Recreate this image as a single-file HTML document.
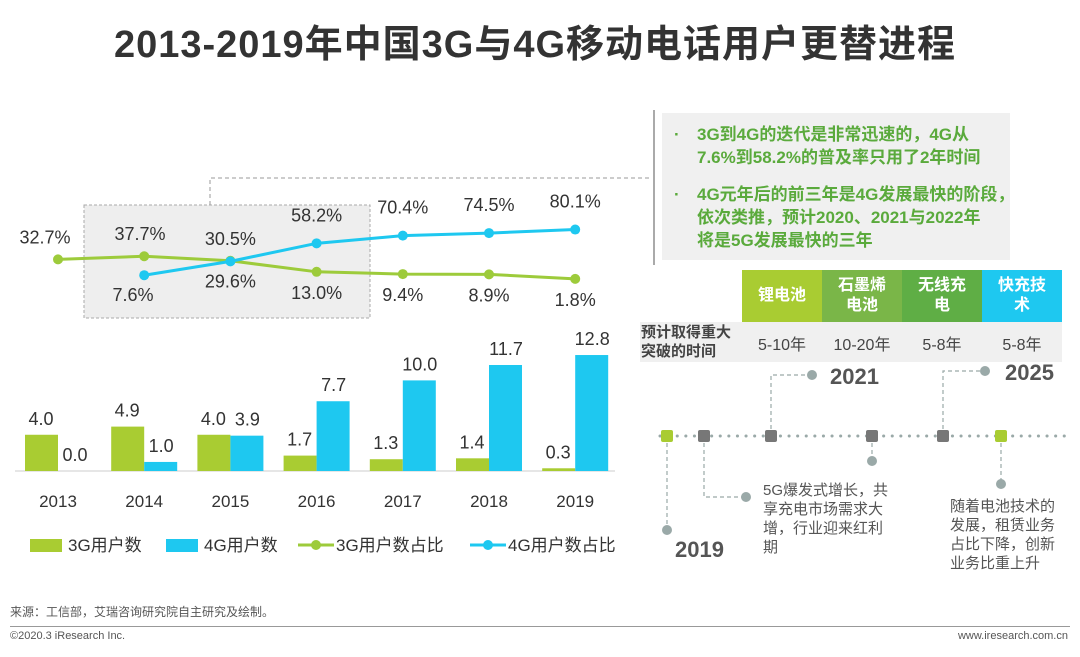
<!DOCTYPE html>
<html><head><meta charset="utf-8"><style>
body{margin:0;width:1080px;height:657px;background:#fff;overflow:hidden;font-family:"Liberation Sans","Noto Sans CJK SC",sans-serif;position:relative}
.a{position:absolute;white-space:nowrap}
</style></head><body>
<div class="a" style="left:0;width:1070px;top:13px;text-align:center;font-size:38px;font-weight:bold;color:#333;letter-spacing:1px">2013-2019年中国3G与4G移动电话用户更替进程</div>
<svg id="ch" class="a" style="left:0;top:0" width="1080" height="657"></svg>
<div class="a" style="left:662px;top:113px;width:348px;height:147px;background:#f0f0f0;color:#5aaa3c;font-weight:bold;font-size:17px;line-height:23px">
<div class="a" style="left:12px;top:10px">·</div><div class="a" style="left:35px;top:10px">3G到4G的迭代是非常迅速的，4G从<br>7.6%到58.2%的普及率只用了2年时间</div>
<div class="a" style="left:12px;top:70px">·</div><div class="a" style="left:35px;top:70px">4G元年后的前三年是4G发展最快的阶段，<br>依次类推，预计2020、2021与2022年<br>将是5G发展最快的三年</div></div>
<div class="a" style="left:640px;top:322px;width:422px;height:40px;background:#f0f0f0"></div>
<div class="a" style="left:641px;top:323px;font-size:15px;font-weight:bold;color:#444;line-height:19px">预计取得重大<br>突破的时间</div>
<div id="tbl"></div>
<div class="a" style="left:10px;top:603px;font-size:12px;color:#555">来源：工信部，艾瑞咨询研究院自主研究及绘制。</div>
<div class="a" style="left:10px;top:626px;width:1060px;height:1px;background:#999"></div>
<div class="a" style="left:10px;top:630px;font-size:11px;color:#555">©2020.3 iResearch Inc.</div>
<div class="a" style="right:12px;top:630px;font-size:11px;color:#555">www.iresearch.com.cn</div>
<script>
const years=["2013","2014","2015","2016","2017","2018","2019"];
const users3g=[4.0,4.9,4.0,1.7,1.3,1.4,0.3];
const users4g=[0.0,1.0,3.9,7.7,10.0,11.7,12.8];
const share3g=[32.7,37.7,30.5,13.0,9.4,8.9,1.8];
const share4g=[null,7.6,29.6,58.2,70.4,74.5,80.1];
const NS="http://www.w3.org/2000/svg",svg=document.getElementById('ch');
const G="#a9cc32",B="#1ec8f0",GL="#9dcb3b";
function xc(i){return 58+i*86.2}
function yb(v){return 471-v*9.06}
function yl(v){return 280-v*0.63}
function mk(t,a,p){const e=document.createElementNS(NS,t);for(const k in a)e.setAttribute(k,a[k]);(p||svg).appendChild(e);return e}
function tx(x,y,s,o){const e=mk('text',Object.assign({x:x,y:y,'text-anchor':'middle','font-size':18,fill:'#333'},o||{}));e.textContent=s;return e}
let e=mk('rect',{x:84,y:205,width:286,height:113,fill:'#eeeeee',stroke:'#aaa','stroke-dasharray':'3,2'});

e=mk('polyline',{points:'210,205 210,178 652,178',fill:'none',stroke:'#999','stroke-dasharray':'4,3'});

e=mk('line',{x1:654,y1:110,x2:654,y2:265,stroke:'#aaa','stroke-width':2});

e=mk('line',{x1:15,y1:471,x2:615,y2:471,stroke:'#ccc'});

years.forEach((y,i)=>{
 let r=mk('rect',{x:xc(i)-33,y:yb(users3g[i]),width:33,height:471-yb(users3g[i]),fill:G});
 
 let t=tx(xc(i)-17,yb(users3g[i])-10,users3g[i].toFixed(1));
 
 r=mk('rect',{x:xc(i),y:yb(users4g[i]),width:33,height:471-yb(users4g[i]),fill:B});
 
 t=tx(xc(i)+17,yb(users4g[i])-10,users4g[i].toFixed(1));
 
 t=tx(xc(i),507,y,{'font-size':17});
 
});
function line(d,c,nm){let pts=[];d.forEach((v,i)=>{if(v!=null)pts.push(xc(i)+','+yl(v))});
 let p=mk('polyline',{points:pts.join(' '),fill:'none',stroke:c,'stroke-width':3});
 
 d.forEach((v,i)=>{if(v==null)return;let c2=mk('circle',{cx:xc(i),cy:yl(v),r:5,fill:c});
 });}
line(share3g,GL,'line-3g-share');line(share4g,B,'line-4g-share');
share3g.forEach((v,i)=>{let up=i<3;let x=i==0?45:(i==1?140:xc(i));
 let t=tx(x,up?yl(v)-16:yl(v)+27,v.toFixed(1)+'%');});
share4g.forEach((v,i)=>{if(v==null)return;let up=i>=3;let x=i==1?133:xc(i);
 let t=tx(x,up?yl(v)-22:yl(v)+26,v.toFixed(1)+'%');});
[[30,'3G用户数','r',G],[166,'4G用户数','r',B],[298,'3G用户数占比','l',GL],[470,'4G用户数占比','l',B]].forEach(l=>{
 let g=mk('g',{});
 if(l[2]=='r')mk('rect',{x:l[0],y:539,width:32,height:13,fill:l[3]},g);
 else{mk('line',{x1:l[0],y1:545,x2:l[0]+36,y2:545,stroke:l[3],'stroke-width':3},g);mk('circle',{cx:l[0]+18,cy:545,r:5,fill:l[3]},g);}
 let t=mk('text',{x:l[0]+38,y:551,'font-size':17,fill:'#333'},g);t.textContent=l[1];});
const techs=["锂电池","石墨烯<br>电池","无线充<br>电","快充技<br>术"],techCols=["#a9cc32","#7ab648","#5fae45","#1ec8f0"],times=["5-10年","10-20年","5-8年","5-8年"];
let tb=document.getElementById('tbl');
techs.forEach((s,i)=>{let d=document.createElement('div');d.className='a';
 
 d.style.cssText=`left:${742+i*80}px;top:270px;width:80px;height:52px;background:${techCols[i]};color:#fff;font-weight:bold;font-size:16px;line-height:20px;display:flex;align-items:center;justify-content:center;text-align:center`;
 d.innerHTML=s;tb.appendChild(d);
 let c=document.createElement('div');c.className='a';
 
 c.style.cssText=`left:${742+i*80}px;top:331px;width:80px;text-align:center;font-size:16px;color:#444`;
 c.textContent=times[i];tb.appendChild(c);});
e=mk('line',{x1:660,y1:436,x2:1072,y2:436,stroke:'#9aa9a8','stroke-width':3,'stroke-dasharray':'0.1,8.5','stroke-linecap':'round'});

const tl=[[667,G],[704,'#777'],[771,'#777'],[872,'#777'],[943,'#777'],[1001,G]];
const dash={stroke:'#9aa9a8','stroke-dasharray':'4,3',fill:'none','stroke-width':1.2};
mk('polyline',Object.assign({points:'667,436 667,530'},dash));
mk('polyline',Object.assign({points:'704,436 704,497 745,497'},dash));
mk('polyline',Object.assign({points:'771,436 771,375 808,375'},dash));
mk('polyline',Object.assign({points:'872,436 872,460'},dash));
mk('polyline',Object.assign({points:'943,436 943,371 981,371'},dash));
mk('polyline',Object.assign({points:'1001,436 1001,484'},dash));
[[667,530],[746,497],[812,375],[872,461],[985,371],[1001,484]].forEach(p=>{let c=mk('circle',{cx:p[0],cy:p[1],r:5,fill:'#9aa9a8'});
 });
tl.forEach(t=>{let r=mk('rect',{x:t[0]-6,y:430,width:12,height:12,rx:2,fill:t[1]});
 });
[[675,557,'2019'],[830,384,'2021'],[1005,380,'2025']].forEach(a=>{let t=mk('text',{x:a[0],y:a[1],'font-size':22,'font-weight':'bold',fill:'#555'});t.textContent=a[2];
 });
[[763,495,["5G爆发式增长，共","享充电市场需求大","增，行业迎来红利","期"]],[950,511,["随着电池技术的","发展，租赁业务","占比下降，创新","业务比重上升"]]].forEach(a=>{
 let t=mk('text',{x:a[0],y:a[1],'font-size':15,fill:'#555'});
 a[2].forEach((s,i)=>{let sp=mk('tspan',{x:a[0],dy:i?19:0},t);sp.textContent=s;});});
</script>
</body></html>
